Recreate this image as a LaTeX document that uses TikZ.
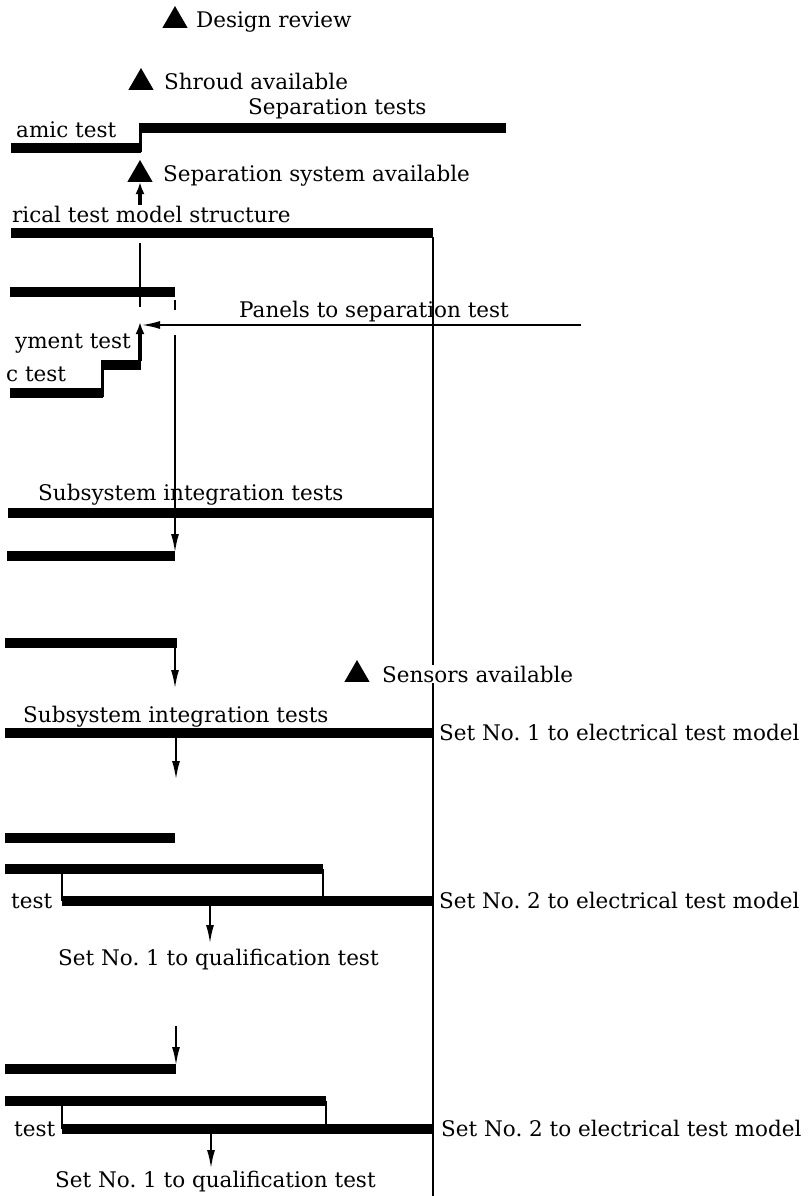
\documentclass[tikz,border=0pt]{standalone}
\usepackage{fontspec}
\setmainfont{DejaVu Serif}
\usetikzlibrary{arrows.meta, positioning, shapes.geometric}

\tikzset{
  bar/.style={line width=9.5pt, line cap=butt},
  riser/.style={line width=3pt},
  link/.style={line width=1.6pt},
  arrow/.style={line width=1.6pt, -{Latex[length=18pt, width=8pt]}},
  heavyarrow/.style={line width=3.5pt, -{Latex[length=12pt, width=9pt]}},
  milestone/.style={regular polygon, regular polygon sides=3, fill=black,
    inner sep=0pt, minimum size=29pt, anchor=south},
  lbl/.style={font=\fontsize{21.5}{24}\selectfont, inner sep=1pt, anchor=base west}
}

\begin{document}
\begin{tikzpicture}[x=1pt, y=-1pt]
  \useasboundingbox (0,0) rectangle (807,1196);

  % Milestones
  \node[milestone] (design) at (175,28) {};
  \node[lbl, right=7pt of design.corner 3, anchor=base west] (designtxt) {Design review};
  \node[milestone] (shroud) at (141,90) {};
  \node[lbl, right=9pt of shroud.corner 3, anchor=base west] (shroudtxt) {Shroud available};
  \node[milestone] (sepsys) at (140,182) {};
  \node[lbl, right=9pt of sepsys.corner 3, anchor=base west] (sepsystxt) {Separation system available};

  % Dynamic test / separation tests
  \node[lbl] (dyn) at (15,137) {amic test};
  \node[lbl] (septests) at (247,115) {Separation tests};
  \draw[bar] (11,148) -- (141,148);
  \draw[riser] (140,152) -- (140,124);
  \draw[bar] (139,128) -- (506,128);
  \coordinate (sepfoot) at (140,205);
  \draw[heavyarrow] (sepfoot) -- (sepsys.south);

  % Electrical test model structure
  \node[lbl] (elec) at (11,222) {rical test model structure};
  \coordinate (elec-r) at (433,233);
  \coordinate (bottom-r) at (433,1196);
  \draw[bar] (11,233) -- (elec-r);
  \draw[link] ([yshift=-4pt]elec-r) -- (bottom-r);
  \draw[link] (140,243) -- (140,307);
  \draw[bar] (10,292) -- (175,292);

  % Panels to separation test
  \coordinate (corner) at (140,325);
  \coordinate (panels-r) at (581,325);
  \node[lbl] (panels) at (238,317) {Panels to separation test};
  \draw[arrow] (panels-r) -- ([xshift=2pt]corner);
  \draw[link] (175,300) -- (175,310);

  % Deployment test step
  \node[lbl] (deploy) at (14,348) {yment test};
  \node[lbl] (ctest) at (5,381) {c test};
  \draw[bar] (10,393) -- (103,393);
  \draw[riser] (102,397) -- (102,361);
  \draw[bar] (101,365) -- (141,365);
  \coordinate (step-r) at (140,361);
  \draw[heavyarrow] (step-r) -- ([yshift=3pt]corner);

  % Subsystem integration tests (1)
  \node[lbl] (subsys1) at (37,500) {Subsystem integration tests};
  \draw[bar] (8,513) -- (433,513);
  \coordinate (drop1) at (175,335);
  \coordinate (bar2-r) at (175,552);
  \draw[arrow] (drop1) -- (bar2-r);
  \draw[bar] (7,556) -- (175,556);
  \draw[bar] (5,643) -- (177,643);
  \coordinate (bar3-r) at (175,647);
  \coordinate (drop2) at (175,688);
  \draw[arrow] (bar3-r) -- (drop2);

  % Sensors
  \node[milestone] (sensors) at (357,682) {};
  \node[lbl, fill=white, right=11pt of sensors.corner 3, anchor=base west] (sensorstxt) {Sensors available};

  % Subsystem integration tests (2)
  \node[lbl] (subsys2) at (22,722) {Subsystem integration tests};
  \draw[bar] (5,733) -- (433,733);
  \node[lbl] (set1elec) at (438,740) {Set No.~1 to electrical test model};
  \coordinate (drop3) at (176,738);
  \coordinate (drop3-end) at (176,779);
  \draw[arrow] (drop3) -- (drop3-end);

  % Set 1 / set 2
  \draw[bar] (5,838) -- (175,838);
  \draw[bar] (5,869) -- (323,869);
  \draw[link] (62,869) -- (62,901);
  \draw[link] (323,869) -- (323,901);
  \draw[bar] (62,901) -- (433,901);
  \node[lbl] (testa) at (10,908) {test};
  \node[lbl] (set2elec) at (438,908) {Set No.~2 to electrical test model};
  \coordinate (qual1) at (210,905);
  \node[lbl] (set1qual) at (57,965) {Set No.~1 to qualification test};
  \draw[arrow] (qual1) -- (210,943);

  % Second set pair
  \coordinate (drop4) at (176,1026);
  \coordinate (bard-r) at (176,1065);
  \draw[arrow] (drop4) -- (bard-r);
  \draw[bar] (5,1069) -- (176,1069);
  \draw[bar] (5,1101) -- (326,1101);
  \draw[link] (62,1101) -- (62,1129);
  \draw[link] (326,1101) -- (326,1129);
  \draw[bar] (62,1129) -- (433,1129);
  \node[lbl] (testb) at (13,1136) {test};
  \node[lbl] (set2elecb) at (440,1136) {Set No.~2 to electrical test model};
  \coordinate (qual2) at (211,1133);
  \node[lbl] (set1qualb) at (54,1187) {Set No.~1 to qualification test};
  \draw[arrow] (qual2) -- (211,1168);
\end{tikzpicture}
\end{document}
